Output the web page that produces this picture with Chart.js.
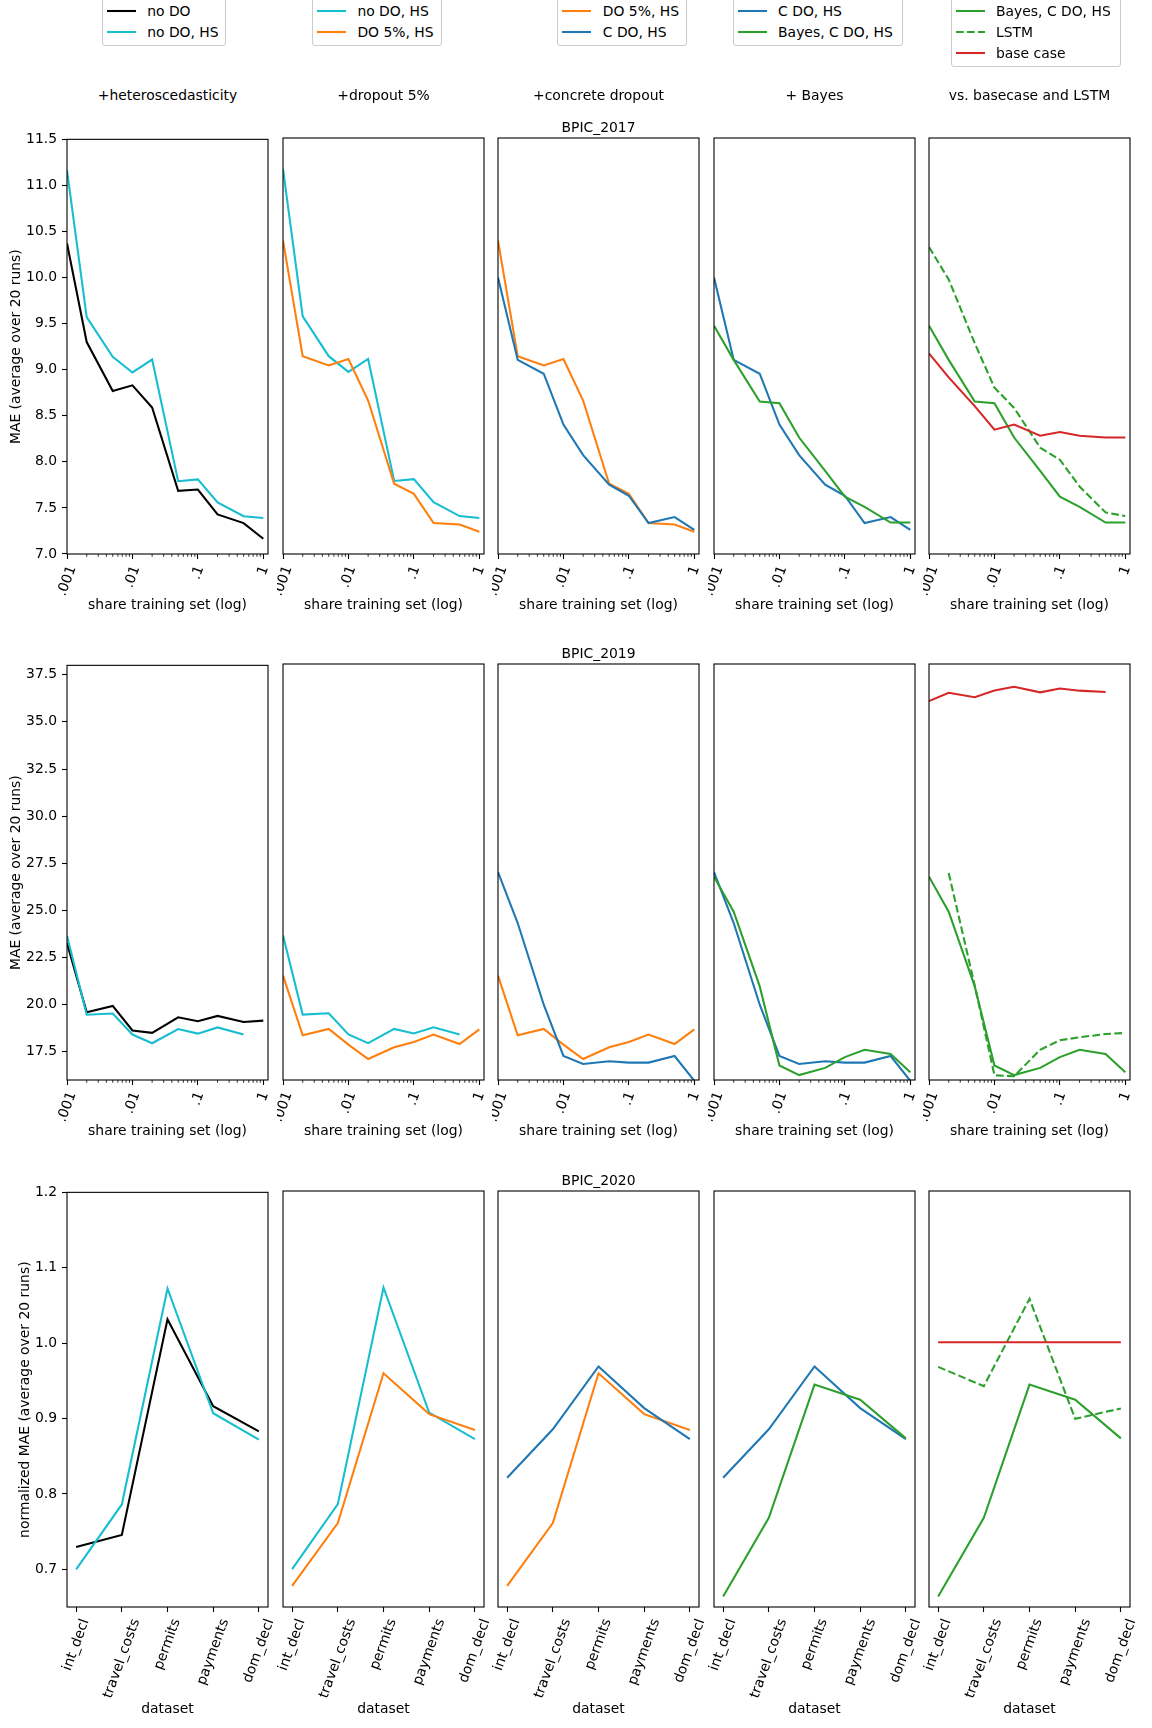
<!DOCTYPE html>
<html>
<head>
<meta charset="utf-8">
<script src="https://cdn.jsdelivr.net/npm/chart.js@4.4.1/dist/chart.umd.min.js"></script>
<style>
  body { margin: 0; background: #fff; width: 1152px; height: 1728px; position: relative; overflow: hidden; font-family: "DejaVu Sans"; }
  canvas { position: absolute; }
  .txt { position: absolute; font-size: 13.9px; line-height: 16px; white-space: nowrap; transform: translate(-50%, -50%); color: #000; }
  .leg { position: absolute; border: 1px solid #cccccc; border-radius: 3px; background: rgba(255,255,255,0.8); box-sizing: border-box; }
  .leg svg { position: absolute; }
  .leg span { position: absolute; font-size: 13.9px; line-height: 16px; white-space: nowrap; color: #000; }
</style>
</head>
<body>
<script>
// x values (share of training set) and dataset names
const shares = [0.001, 0.002, 0.005, 0.01, 0.02, 0.05, 0.1, 0.2, 0.5, 1];
const shareTicks = [0.001, 0.01, 0.1, 1];
const shareTickLabels = ['.001', '.01', '.1', '1'];
const logs2020 = ['int_decl', 'travel_costs', 'permits', 'payments', 'dom_decl'];

// BPIC_2017 - MAE
const noDO17   = [10.37, 9.30, 8.77, 8.83, 8.59, 7.685, 7.70, 7.43, 7.335, 7.166];
const noDOHS17 = [11.165, 9.57, 9.14, 8.97, 9.11, 7.79, 7.81, 7.56, 7.41, 7.39];
const do5HS17  = [10.39, 9.14, 9.04, 9.11, 8.66, 7.76, 7.65, 7.335, 7.32, 7.24];
const cdoHS17  = [9.99, 9.10, 8.95, 8.40, 8.07, 7.75, 7.63, 7.335, 7.40, 7.26];
const bayes17  = [9.47, 9.10, 8.65, 8.63, 8.26, 7.90, 7.62, 7.51, 7.34, 7.34];
const lstm17   = [10.32, 9.97, 9.28, 8.80, 8.58, 8.15, 8.02, 7.73, 7.45, 7.41];
const base17   = [9.17, 8.91, 8.60, 8.345, 8.40, 8.28, 8.32, 8.28, 8.26, 8.26];

// BPIC_2019 - MAE
const noDO19   = [23.26, 19.60, 19.93, 18.63, 18.50, 19.33, 19.12, 19.40, 19.08, 19.15];
const noDOHS19 = [23.65, 19.46, 19.53, 18.41, 17.95, 18.70, 18.46, 18.79, 18.41, null];
const do5HS19  = [21.52, 18.36, 18.70, 17.87, 17.11, 17.73, 18.01, 18.40, 17.90, 18.68];
const cdoHS19  = [27.00, 24.30, 19.98, 17.27, 16.85, 16.99, 16.92, 16.92, 17.27, 15.96];
const bayes19  = [26.75, 24.90, 20.95, 16.77, 16.26, 16.64, 17.21, 17.60, 17.38, 16.41];
const lstm19   = [null, 26.95, 21.00, 16.25, 16.20, 17.60, 18.10, 18.26, 18.43, 18.49];
const base19   = [36.04, 36.48, 36.24, 36.60, 36.80, 36.50, 36.70, 36.59, 36.52, null];

// BPIC_2020 - normalized MAE
const noDO20   = [0.7296, 0.7456, 1.0316, 0.9164, 0.883];
const noDOHS20 = [0.700, 0.786, 1.0725, 0.907, 0.872];
const do5HS20  = [0.678, 0.761, 0.959, 0.905, 0.884];
const cdoHS20  = [0.821, 0.885, 0.968, 0.913, 0.872];
const bayes20  = [0.664, 0.768, 0.944, 0.924, 0.873];
const lstm20   = [0.9675, 0.942, 1.0574, 0.8988, 0.9125];
const base20   = [1.0, 1.0, 1.0, 1.0, 1.0];

// y ticks
const yTicks17 = [7.0, 7.5, 8.0, 8.5, 9.0, 9.5, 10.0, 10.5, 11.0, 11.5];
const yTicks19 = [17.5, 20.0, 22.5, 25.0, 27.5, 30.0, 32.5, 35.0, 37.5];
const yTicks20 = [0.7, 0.8, 0.9, 1.0, 1.1, 1.2];

const colTitles = ['+heteroscedasticity', '+dropout 5%', '+concrete dropout', '+ Bayes', 'vs. basecase and LSTM'];

const style = {
  noDO:   { label: 'no DO', color: '#000000' },
  noDOHS: { label: 'no DO, HS', color: '#17becf' },
  do5HS:  { label: 'DO 5%, HS', color: '#ff7f0e' },
  cdoHS:  { label: 'C DO, HS', color: '#1f77b4' },
  bayes:  { label: 'Bayes, C DO, HS', color: '#2ca02c' },
  lstm:   { label: 'LSTM', color: '#2ca02c', dash: [7.7, 3.3] },
  base:   { label: 'base case', color: '#d62728' }
};
const columnSeries = [['noDO', 'noDOHS'], ['noDOHS', 'do5HS'], ['do5HS', 'cdoHS'], ['cdoHS', 'bayes'], ['bayes', 'lstm', 'base']];

const rows = [
  { name: 'BPIC_2017', x: shares, log: true, ymin: 7.0, ymax: 11.5, yTicks: yTicks17,
    ylabel: 'MAE (average over 20 runs)', xlabel: 'share training set (log)', ylabelPad: 8.4,
    data: { noDO: noDO17, noDOHS: noDOHS17, do5HS: do5HS17, cdoHS: cdoHS17, bayes: bayes17, lstm: lstm17, base: base17 } },
  { name: 'BPIC_2019', x: shares, log: true, ymin: 16, ymax: 38, yTicks: yTicks19,
    ylabel: 'MAE (average over 20 runs)', xlabel: 'share training set (log)', ylabelPad: 8.4,
    data: { noDO: noDO19, noDOHS: noDOHS19, do5HS: do5HS19, cdoHS: cdoHS19, bayes: bayes19, lstm: lstm19, base: base19 } },
  { name: 'BPIC_2020', x: logs2020.map((n, i) => i), log: false, ymin: 0.65, ymax: 1.2, yTicks: yTicks20,
    ylabel: 'normalized MAE (average over 20 runs)', xlabel: 'dataset', ylabelPad: 17.2,
    data: { noDO: noDO20, noDOHS: noDOHS20, do5HS: do5HS20, cdoHS: cdoHS20, bayes: bayes20, lstm: lstm20, base: base20 } }
];

// layout
const colLeft = [67, 283, 498, 714, 929];
const rowTop = [138, 664, 1191];
const W = 201, H = 416;
const FONT = 13.9;
const LW = 2.08;

Chart.defaults.font.family = '"DejaVu Sans"';
Chart.defaults.font.size = FONT;
Chart.defaults.color = '#000';

function addText(text, x, y) {
  const d = document.createElement('div');
  d.className = 'txt';
  d.textContent = text;
  d.style.left = x + 'px';
  d.style.top = y + 'px';
  document.body.appendChild(d);
}

const minorShares = [];
[0.001, 0.01, 0.1].forEach(dec => { for (let m = 2; m <= 9; m++) minorShares.push(+(m * dec).toPrecision(3)); });

function decorPlugin(row) {
  return {
    id: 'decor',
    afterDraw(chart) {
      const { ctx, chartArea: a } = chart;
      const x = chart.scales.x;
      ctx.save();
      // axes box
      ctx.strokeStyle = '#000';
      ctx.lineWidth = 1.1;
      ctx.strokeRect(a.left, a.top, a.right - a.left, a.bottom - a.top);
      // minor ticks for the log axis
      if (row.log) {
        ctx.lineWidth = 0.8;
        minorShares.forEach(v => {
          const px = x.getPixelForValue(v);
          ctx.beginPath(); ctx.moveTo(px, a.bottom); ctx.lineTo(px, a.bottom + 2.8); ctx.stroke();
        });
      }
      // rotated tick labels, centred under the tick like matplotlib
      const th = 70 * Math.PI / 180;
      ctx.font = FONT + 'px "DejaVu Sans"';
      ctx.fillStyle = '#000';
      ctx.textAlign = 'center';
      ctx.textBaseline = 'middle';
      x.ticks.forEach(t => {
        const lab = row.log ? shareTickLabels[shareTicks.indexOf(t.value)] : logs2020[t.value];
        const w = ctx.measureText(lab).width, h = 16.2;
        const bh = w * Math.sin(th) + h * Math.cos(th);
        const cx = x.getPixelForValue(t.value);
        const cy = a.bottom + 4.9 + 4.9 + bh / 2;
        ctx.save();
        ctx.translate(cx, cy);
        ctx.rotate(-th);
        ctx.fillText(lab, 0, 0);
        ctx.restore();
      });
      ctx.restore();
    }
  };
}

rows.forEach((row, r) => {
  columnSeries.forEach((keys, c) => {
    const padL = c === 0 ? colLeft[0] : 6;
    const padT = 12, padR = 24;
    const padB = r < 2 ? 64 : 115;
    const cv = document.createElement('canvas');
    cv.width = padL + W + padR;
    cv.height = padT + H + padB;
    cv.style.left = (colLeft[c] - padL) + 'px';
    cv.style.top = (rowTop[r] - padT) + 'px';
    document.body.appendChild(cv);

    const datasets = keys.map(k => ({
      label: style[k].label,
      data: row.x.map((xv, i) => ({ x: xv, y: row.data[k][i] })),
      borderColor: style[k].color,
      borderWidth: LW,
      borderDash: style[k].dash || [],
      pointRadius: 0,
      tension: 0,
      fill: false,
      spanGaps: false
    })).reverse();

    new Chart(cv.getContext('2d'), {
      type: 'line',
      data: { datasets },
      options: {
        responsive: false,
        animation: false,
        layout: { padding: { left: 0, top: padT, right: padR, bottom: 0 } },
        plugins: { legend: { display: false }, tooltip: { enabled: false } },
        scales: {
          x: {
            type: row.log ? 'logarithmic' : 'linear',
            min: row.log ? 0.001 : -0.2,
            max: row.log ? 1.18 : 4.2,
            afterBuildTicks: s => { s.ticks = (row.log ? shareTicks : row.x).map(v => ({ value: v })); },
            afterFit: s => { s.height = padB; },
            ticks: { display: false, autoSkip: false },
            grid: { drawOnChartArea: false, drawTicks: true, tickLength: 5, tickColor: '#000', tickWidth: 1.1 },
            border: { display: false },
            title: { display: true, text: row.xlabel, padding: { top: 0, bottom: 4 }, font: { size: FONT } }
          },
          y: {
            min: row.ymin,
            max: row.ymax,
            afterBuildTicks: s => { s.ticks = row.yTicks.map(v => ({ value: v })); },
            afterFit: s => { s.width = padL; },
            ticks: { display: c === 0, padding: 5, autoSkip: false, callback: v => Number(v).toFixed(1), font: { size: FONT } },
            grid: { display: c === 0, drawOnChartArea: false, drawTicks: true, tickLength: 5, tickColor: '#000', tickWidth: 1.1 },
            border: { display: false },
            title: { display: c === 0, text: row.ylabel, padding: { top: row.ylabelPad, bottom: 0 }, font: { size: FONT } }
          }
        }
      },
      plugins: [decorPlugin(row)]
    });
  });
  addText(row.name, colLeft[2] + W / 2, rowTop[r] - 11.3);
});

// column titles
colTitles.forEach((t, c) => addText(t, colLeft[c] + W / 2, 95));

// legends above each column
const legendBoxes = [
  { left: 101.7, width: 124.3 },
  { left: 311.9, width: 130.6 },
  { left: 557.3, width: 129.7 },
  { left: 732.6, width: 170.9 },
  { left: 950.5, width: 170.9 }
];
columnSeries.forEach((keys, c) => {
  const box = document.createElement('div');
  box.className = 'leg';
  const top = -3;
  box.style.left = legendBoxes[c].left + 'px';
  box.style.top = top + 'px';
  box.style.width = legendBoxes[c].width + 'px';
  box.style.height = (keys.length === 2 ? 49 : 70) + 'px';
  keys.forEach((k, i) => {
    const cy = 11.3 + i * 20.7 - top - 1;
    const svg = document.createElementNS('http://www.w3.org/2000/svg', 'svg');
    svg.setAttribute('width', '30');
    svg.setAttribute('height', '6');
    svg.style.left = '4px';
    svg.style.top = (cy - 3) + 'px';
    const ln = document.createElementNS('http://www.w3.org/2000/svg', 'line');
    ln.setAttribute('x1', '0'); ln.setAttribute('x2', '29');
    ln.setAttribute('y1', '3'); ln.setAttribute('y2', '3');
    ln.setAttribute('stroke', style[k].color);
    ln.setAttribute('stroke-width', LW);
    if (style[k].dash) ln.setAttribute('stroke-dasharray', style[k].dash.join(' '));
    svg.appendChild(ln);
    box.appendChild(svg);
    const sp = document.createElement('span');
    sp.textContent = style[k].label;
    sp.style.left = '44.5px';
    sp.style.top = (cy - 8) + 'px';
    box.appendChild(sp);
  });
  document.body.appendChild(box);
});
</script>
</body>
</html>
